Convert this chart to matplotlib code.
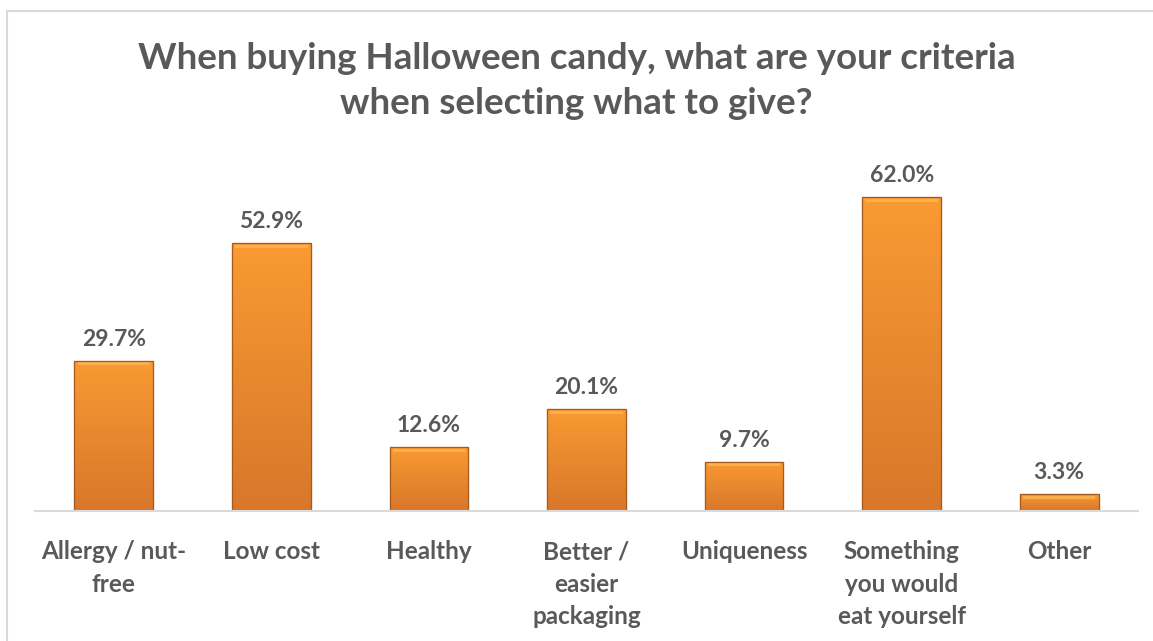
import numpy as np
import matplotlib.pyplot as plt
from matplotlib.patches import Rectangle
from matplotlib.colors import LinearSegmentedColormap

categories = ["Allergy / nut-\nfree", "Low cost", "Healthy", "Better /\neasier\npackaging",
              "Uniqueness", "Something\nyou would\neat yourself", "Other"]
values = [29.7, 52.9, 12.6, 20.1, 9.7, 62.0, 3.3]
title = "When buying Halloween candy, what are your criteria\nwhen selecting what to give?"

plt.rcParams['font.family'] = ['Lato', 'DejaVu Sans']
text_color = '#595959'

fig = plt.figure(figsize=(11.53, 6.41), dpi=100)
ax = fig.add_axes([35 / 1153, 130 / 641, 1103 / 1153, 361 / 641])

x = np.arange(len(values))
bars = ax.bar(x, values, width=0.5, color='#F0882C', edgecolor='#B8621C', linewidth=0.8, zorder=2)

# vertical gradient inside each bar (lighter top, darker bottom)
grad_cmap = LinearSegmentedColormap.from_list('candy', ['#D8772A', '#F99A33'])
grad = np.linspace(0, 1, 256).reshape(-1, 1)
for b in bars:
    x0, w, h = b.get_x(), b.get_width(), b.get_height()
    im = ax.imshow(grad, cmap=grad_cmap, aspect='auto', origin='lower',
                   extent=[x0, x0 + w, 0, h], zorder=2.5)
    im.set_clip_path(b)
    # bevel highlight at top
    ax.add_patch(Rectangle((x0 + w * 0.04, h - 0.9), w * 0.92, 0.6,
                           facecolor='#FFC060', edgecolor='none', alpha=0.6, zorder=3))
    ax.add_patch(Rectangle((x0, 0), w, h, facecolor='none',
                           edgecolor='#A9591A', linewidth=0.9, zorder=3.5))

for xi, v in zip(x, values):
    ax.annotate(f"{v:.1f}%", (xi, v), xytext=(0, 8), textcoords='offset points',
                ha='center', va='bottom', fontsize=16.5, fontweight='bold', color=text_color)

ax.set_xlim(-0.5, len(values) - 0.5)
ax.set_ylim(0, 71.3)
ax.set_yticks([])
ax.set_xticks(x)
ax.set_xticklabels(categories, fontsize=17.5, fontweight='bold', color=text_color,
                   linespacing=1.5, va='top')
ax.tick_params(axis='x', length=0, pad=21)
for s in ['top', 'right', 'left']:
    ax.spines[s].set_visible(False)
ax.spines['bottom'].set_color('#D9D9D9')
ax.spines['bottom'].set_linewidth(1.5)
ax.spines['bottom'].set_zorder(4)

fig.text(0.5, 1 - 81 / 641, title, ha='center', va='center', fontsize=26.5,
         fontweight='bold', color=text_color, linespacing=1.45)

# chart area border
fig.patches.append(Rectangle((7 / 1153, -0.05), 1.1, 1 - 11 / 641 + 0.05,
                             transform=fig.transFigure, facecolor='none',
                             edgecolor='#D9D9D9', linewidth=1.5, zorder=0))

fig.savefig('out.png', dpi=100)
